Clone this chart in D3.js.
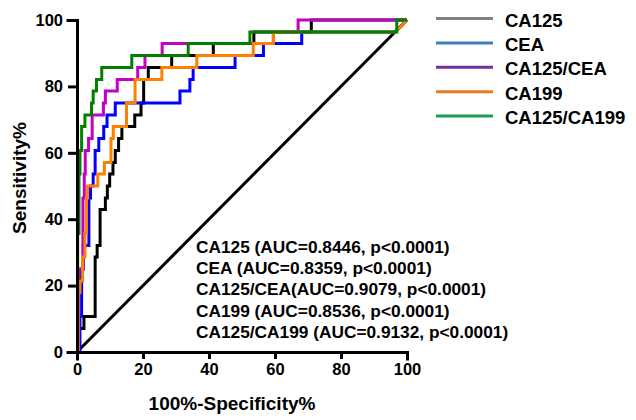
<!DOCTYPE html>
<html>
<head>
<meta charset="utf-8">
<script src="https://cdn.jsdelivr.net/npm/d3@7"></script>
<style>
  body { margin: 0; background: #fff; }
  text { font-family: "Liberation Sans", Arial, sans-serif; font-weight: bold; fill: #000; }
</style>
</head>
<body>
<svg id="chart" width="636" height="420"></svg>
<script>
// ROC points (100%-specificity, sensitivity)
const ca125X = [0, 0.5, 2.1, 5.5, 6.1, 7, 8.6, 9.2, 9.9, 10.9, 11.6, 12.6, 13.6, 17.5, 19.4, 20.2, 21.6, 28.7, 41.3, 53.6, 71, 100];
const ca125Y = [0, 7.1, 10.7, 28.6, 32.1, 42.9, 46.4, 50, 53.6, 57.1, 60.7, 64.3, 67.9, 71.4, 75, 82.1, 85.7, 89.3, 92.9, 96.4, 100, 100];

const ceaX = [0, 0.9, 1.4, 1.9, 3.6, 4.1, 4.9, 5.5, 6.6, 8.1, 9.1, 11.6, 31.2, 34.2, 35.2, 47.9, 56.5, 68.1, 96.5, 100];
const ceaY = [0, 10.7, 25, 32.1, 46.4, 50, 53.6, 60.7, 64.3, 67.9, 71.4, 75, 78.6, 82.1, 85.7, 89.3, 92.9, 96.4, 96.4, 100];

const ca125ceaX = [0, 0.5, 1.8, 2.2, 2.5, 3.5, 4.6, 8, 8.6, 12.2, 18.4, 20.6, 25.8, 59.5, 67, 100];
const ca125ceaY = [0, 25, 46.4, 53.6, 60.7, 64.3, 71.4, 75, 78.6, 82.1, 85.7, 89.3, 92.9, 96.4, 100, 100];

const ca199X = [0, 0.4, 0.9, 1.7, 2.4, 2.9, 3.2, 6.3, 8.3, 10.3, 11, 15, 17.6, 25.7, 36.3, 53.4, 59.5, 96.5, 100];
const ca199Y = [0, 17.9, 21.4, 28.6, 35.7, 46.4, 50, 53.6, 57.1, 64.3, 67.9, 75, 82.1, 85.7, 89.3, 92.9, 96.4, 96.4, 100];

const ca125ca199X = [0, 0.2, 0.6, 0.9, 1.4, 2.4, 4.4, 4.9, 5.9, 7.5, 16.6, 33.7, 52.4, 96.9, 100];
const ca125ca199Y = [0, 35.7, 53.6, 60.7, 67.9, 71.4, 75, 78.6, 82.1, 85.7, 89.3, 92.9, 96.4, 100, 100];

const seriesNames = ["CA125", "CEA", "CA125/CEA", "CA199", "CA125/CA199"];
const aucLabels = [
  "CA125 (AUC=0.8446, p<0.0001)",
  "CEA (AUC=0.8359, p<0.0001)",
  "CA125/CEA(AUC=0.9079, p<0.0001)",
  "CA199 (AUC=0.8536, p<0.0001)",
  "CA125/CA199 (AUC=0.9132, p<0.0001)"
];
const tickValues = [0, 20, 40, 60, 80, 100];

const curveColors = ["#000000", "#0000ff", "#c400c4", "#ff8000", "#008000"];
const legendColors = ["#808080", "#3c7fc0", "#7030a0", "#f07820", "#1aa050"];

const svg = d3.select("#chart");

let x = d3.scaleLinear().domain([0, 100]).range([77, 407]);
let y = d3.scaleLinear().domain([0, 100]).range([352, 20]);

// turns ROC points into a staircase, the last step is joined straight
function stepVerts(xs, ys) {
    let pts = [[xs[0], ys[0]]];
    for (let i = 1; i < xs.length - 1; i++) {
        pts.push([xs[i], ys[i - 1]]);
        pts.push([xs[i], ys[i]]);
    }
    pts.push([xs[xs.length - 1], ys[ys.length - 1]]);
    return pts;
}

let line = d3.line()
    .x(function(d) { return x(d[0]); })
    .y(function(d) { return y(d[1]); });

// reference diagonal
svg.append("path")
    .attr("d", line([[0, 0], [100, 100]]))
    .attr("stroke", "#000")
    .attr("stroke-width", 3)
    .attr("fill", "none");

let series = [
    stepVerts(ca125X, ca125Y),
    stepVerts(ceaX, ceaY),
    stepVerts(ca125ceaX, ca125ceaY),
    stepVerts(ca199X, ca199Y),
    stepVerts(ca125ca199X, ca125ca199Y)
];

svg.selectAll("path.roc")
    .data(series)
    .enter()
    .append("path")
    .attr("class", "roc")
    .attr("d", function(d) { return line(d); })
    .attr("stroke", function(d, i) { return curveColors[i]; })
    .attr("stroke-width", 3)
    .attr("fill", "none");

// axes
let xAxis = svg.append("g")
    .attr("transform", "translate(0,352)")
    .call(d3.axisBottom(x).tickValues(tickValues).tickSizeOuter(0).tickSize(7).tickPadding(4));
let yAxis = svg.append("g")
    .attr("transform", "translate(77,0)")
    .call(d3.axisLeft(y).tickValues(tickValues).tickSizeOuter(0).tickSize(9).tickPadding(5));

[xAxis, yAxis].forEach(function(g) {
    g.select(".domain").attr("stroke", "#000").attr("stroke-width", 3).attr("stroke-linecap", "square");
    g.selectAll(".tick line").attr("stroke", "#000").attr("stroke-width", 3);
    g.selectAll(".tick text")
        .style("font-family", "'Liberation Sans', Arial, sans-serif")
        .style("font-weight", "bold")
        .style("font-size", "16.5px")
        .attr("fill", "#000");
});

// axis titles
svg.append("text")
    .attr("x", 232)
    .attr("y", 410)
    .attr("text-anchor", "middle")
    .style("font-size", "19px")
    .text("100%-Specificity%");

svg.append("text")
    .attr("transform", "translate(26,178) rotate(-90)")
    .attr("text-anchor", "middle")
    .style("font-size", "19px")
    .text("Sensitivity%");

// legend
let legend = svg.selectAll("g.legend")
    .data(seriesNames)
    .enter()
    .append("g")
    .attr("class", "legend")
    .attr("transform", function(d, i) { return "translate(436," + (18.5 + i * 24.4) + ")"; });

legend.append("line")
    .attr("x1", 0).attr("x2", 57)
    .attr("stroke", function(d, i) { return legendColors[i]; })
    .attr("stroke-width", 3);

legend.append("text")
    .attr("x", 69)
    .attr("y", 8)
    .style("font-size", "18.5px")
    .text(function(d) { return d; });

// AUC notes
svg.selectAll("text.auc")
    .data(aucLabels)
    .enter()
    .append("text")
    .attr("class", "auc")
    .attr("x", 196)
    .attr("y", function(d, i) { return 253 + i * 21.2; })
    .style("font-size", "17.3px")
    .text(function(d) { return d; });
</script>
</body>
</html>
